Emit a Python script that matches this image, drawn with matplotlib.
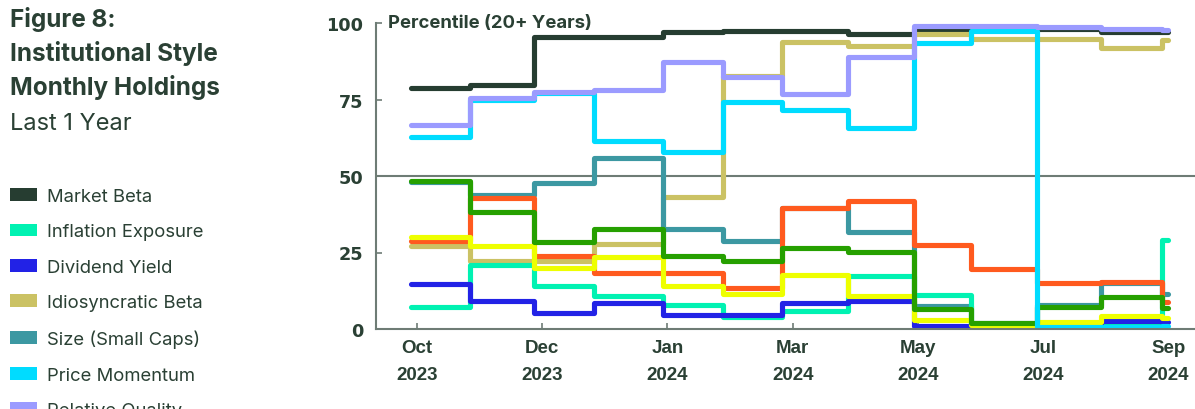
import pandas as pd
import numpy as np
import matplotlib
matplotlib.use('Agg')
import matplotlib.pyplot as plt
import matplotlib.dates as mdates
import matplotlib.transforms as mtransforms
from matplotlib.patches import Patch

# month-end rebalance dates (last one is the latest reading)
step_dates = ['2023-09-28', '2023-10-27', '2023-11-27', '2023-12-26', '2024-01-29', '2024-02-27',
              '2024-03-27', '2024-04-28', '2024-05-30', '2024-06-27', '2024-07-29', '2024-08-29',
              '2024-09-28', '2024-10-01']

market_beta = [78.8, 79.7, 95.4, 95.4, 97.0, 97.4, 97.4, 96.4, 98.0, 98.0, 98.0, 97.0, 97.0]
inflation_exposure = [7.2, 20.9, 14.0, 10.8, 7.8, 3.9, 5.9, 17.3, 11.1, 1.6, 1.3, 1.3, 29.0]
dividend_yield = [14.7, 9.2, 5.2, 8.5, 4.6, 4.7, 8.5, 9.2, 1.0, 0.5, 1.0, 2.6, 2.3]
idiosyncratic_beta = [27.1, 22.2, 22.2, 27.8, 43.1, 82.7, 93.8, 92.5, 96.4, 94.8, 94.8, 91.7, 94.5]
size_small_caps = [48.0, 43.8, 47.7, 55.9, 32.7, 28.8, 39.5, 31.7, 7.5, 2.0, 7.8, 15.0, 11.4]
price_momentum = [62.9, 74.8, 77.0, 61.5, 57.8, 74.1, 71.6, 65.6, 93.4, 97.4, 0.5, 0.8, 1.0]
relative_quality = [66.8, 75.5, 77.4, 78.2, 87.3, 82.3, 76.8, 88.9, 99.0, 99.0, 98.7, 98.0, 97.7]
value = [28.8, 42.8, 24.0, 18.3, 18.3, 13.3, 39.5, 41.9, 27.5, 19.6, 15.0, 15.4, 8.8]
growth = [48.3, 38.2, 28.4, 32.7, 23.9, 22.2, 26.5, 25.2, 6.5, 2.0, 7.2, 10.5, 6.9]
low_volatility = [30.0, 27.1, 19.9, 23.5, 14.0, 11.4, 17.6, 10.8, 3.0, 1.3, 2.3, 4.2, 3.6]

series_names = ['Market Beta', 'Inflation Exposure', 'Dividend Yield', 'Idiosyncratic Beta',
                'Size (Small Caps)', 'Price Momentum', 'Relative Quality', 'Value', 'Growth',
                'Low Volatility']
series_values = [market_beta, inflation_exposure, dividend_yield, idiosyncratic_beta,
                 size_small_caps, price_momentum, relative_quality, value, growth, low_volatility]

tick_labels = ['Oct\n2023', 'Dec\n2023', 'Jan\n2024', 'Mar\n2024', 'May\n2024', 'Jul\n2024', 'Sep\n2024']
y_ticks = [0, 25, 50, 75, 100]

colors = {
    'Market Beta': '#263d31',
    'Inflation Exposure': '#00f2b2',
    'Dividend Yield': '#2222e6',
    'Idiosyncratic Beta': '#cbc264',
    'Size (Small Caps)': '#3c98a2',
    'Price Momentum': '#00dcff',
    'Relative Quality': '#9b9bff',
    'Value': '#ff5a1e',
    'Growth': '#26a000',
    'Low Volatility': '#eeff00',
}
draw_order = ['Market Beta', 'Idiosyncratic Beta', 'Size (Small Caps)', 'Inflation Exposure',
              'Dividend Yield', 'Value', 'Low Volatility', 'Growth', 'Price Momentum',
              'Relative Quality']

TEXT = '#2a4034'
GREY = '#6e7c75'

fig = plt.figure(figsize=(11.95, 4.1), dpi=100)
ax = fig.add_axes([376 / 1195, 80 / 410, 819 / 1195, 306 / 410])

dates = pd.to_datetime(step_dates)
data = dict(zip(series_names, series_values))
for name in draw_order:
    vals = data[name] + [data[name][-1]]
    ax.plot(dates, vals, drawstyle='steps-post', color=colors[name], lw=3.7,
            solid_capstyle='round', solid_joinstyle='round')

ax.axhline(50, color=GREY, lw=1.5, zorder=0)

ax.set_xlim(pd.Timestamp('2023-09-11'), pd.Timestamp('2024-10-14'))
ax.set_ylim(0, 100)

tick_pos = np.linspace(mdates.date2num(pd.Timestamp('2023-10-01')),
                       mdates.date2num(pd.Timestamp('2024-10-01')), len(tick_labels))
ax.set_xticks(tick_pos)
ax.set_xticklabels(tick_labels, fontfamily=['Liberation Sans Narrow', 'Liberation Sans'],
                   fontweight='bold', fontsize=13.5, color=TEXT, linespacing=1.8)
ax.set_yticks(y_ticks)
ax.set_yticklabels([str(t) for t in y_ticks], fontfamily='DejaVu Sans', fontweight='bold',
                   fontsize=12.7, color=TEXT)
ax.tick_params(axis='both', direction='in', length=4, width=1.2, color=GREY)
ax.tick_params(axis='y', pad=9)
ax.tick_params(axis='x', pad=7)

for side in ['top', 'right']:
    ax.spines[side].set_visible(False)
for side in ['left', 'bottom']:
    ax.spines[side].set_color(GREY)
    ax.spines[side].set_linewidth(1.5)

trans = mtransforms.blended_transform_factory(ax.transAxes, ax.transData)
ax.text(0.0147, 100, 'Percentile (20+ Years)', transform=trans, va='center', ha='left',
        fontfamily='Inter', fontweight='bold', fontsize=13.3, color=TEXT)

# title block
fig.text(10 / 1195, 1 - 27 / 410, 'Figure 8:', fontfamily='Inter', fontweight='bold',
         fontsize=17.5, color=TEXT, va='baseline')
fig.text(10 / 1195, 1 - 61 / 410, 'Institutional Style', fontfamily='Inter', fontweight='bold',
         fontsize=17.5, color=TEXT, va='baseline')
fig.text(10 / 1195, 1 - 95 / 410, 'Monthly Holdings', fontfamily='Inter', fontweight='bold',
         fontsize=17.5, color=TEXT, va='baseline')
fig.text(10 / 1195, 1 - 130 / 410, 'Last 1 Year', fontfamily='Inter', fontsize=17,
         color=TEXT, va='baseline')

handles = [Patch(facecolor=colors[n], edgecolor='none') for n in series_names]
fig.legend(handles, series_names, loc='upper left', bbox_to_anchor=(10 / 1195, 1 - 189 / 410),
           frameon=False, borderpad=0, borderaxespad=0, handlelength=1.45, handleheight=0.7,
           handletextpad=0.55, labelspacing=1.0,
           prop={'family': 'Inter', 'size': 13.3}, labelcolor=TEXT)

fig.savefig('out.png', dpi=100)
